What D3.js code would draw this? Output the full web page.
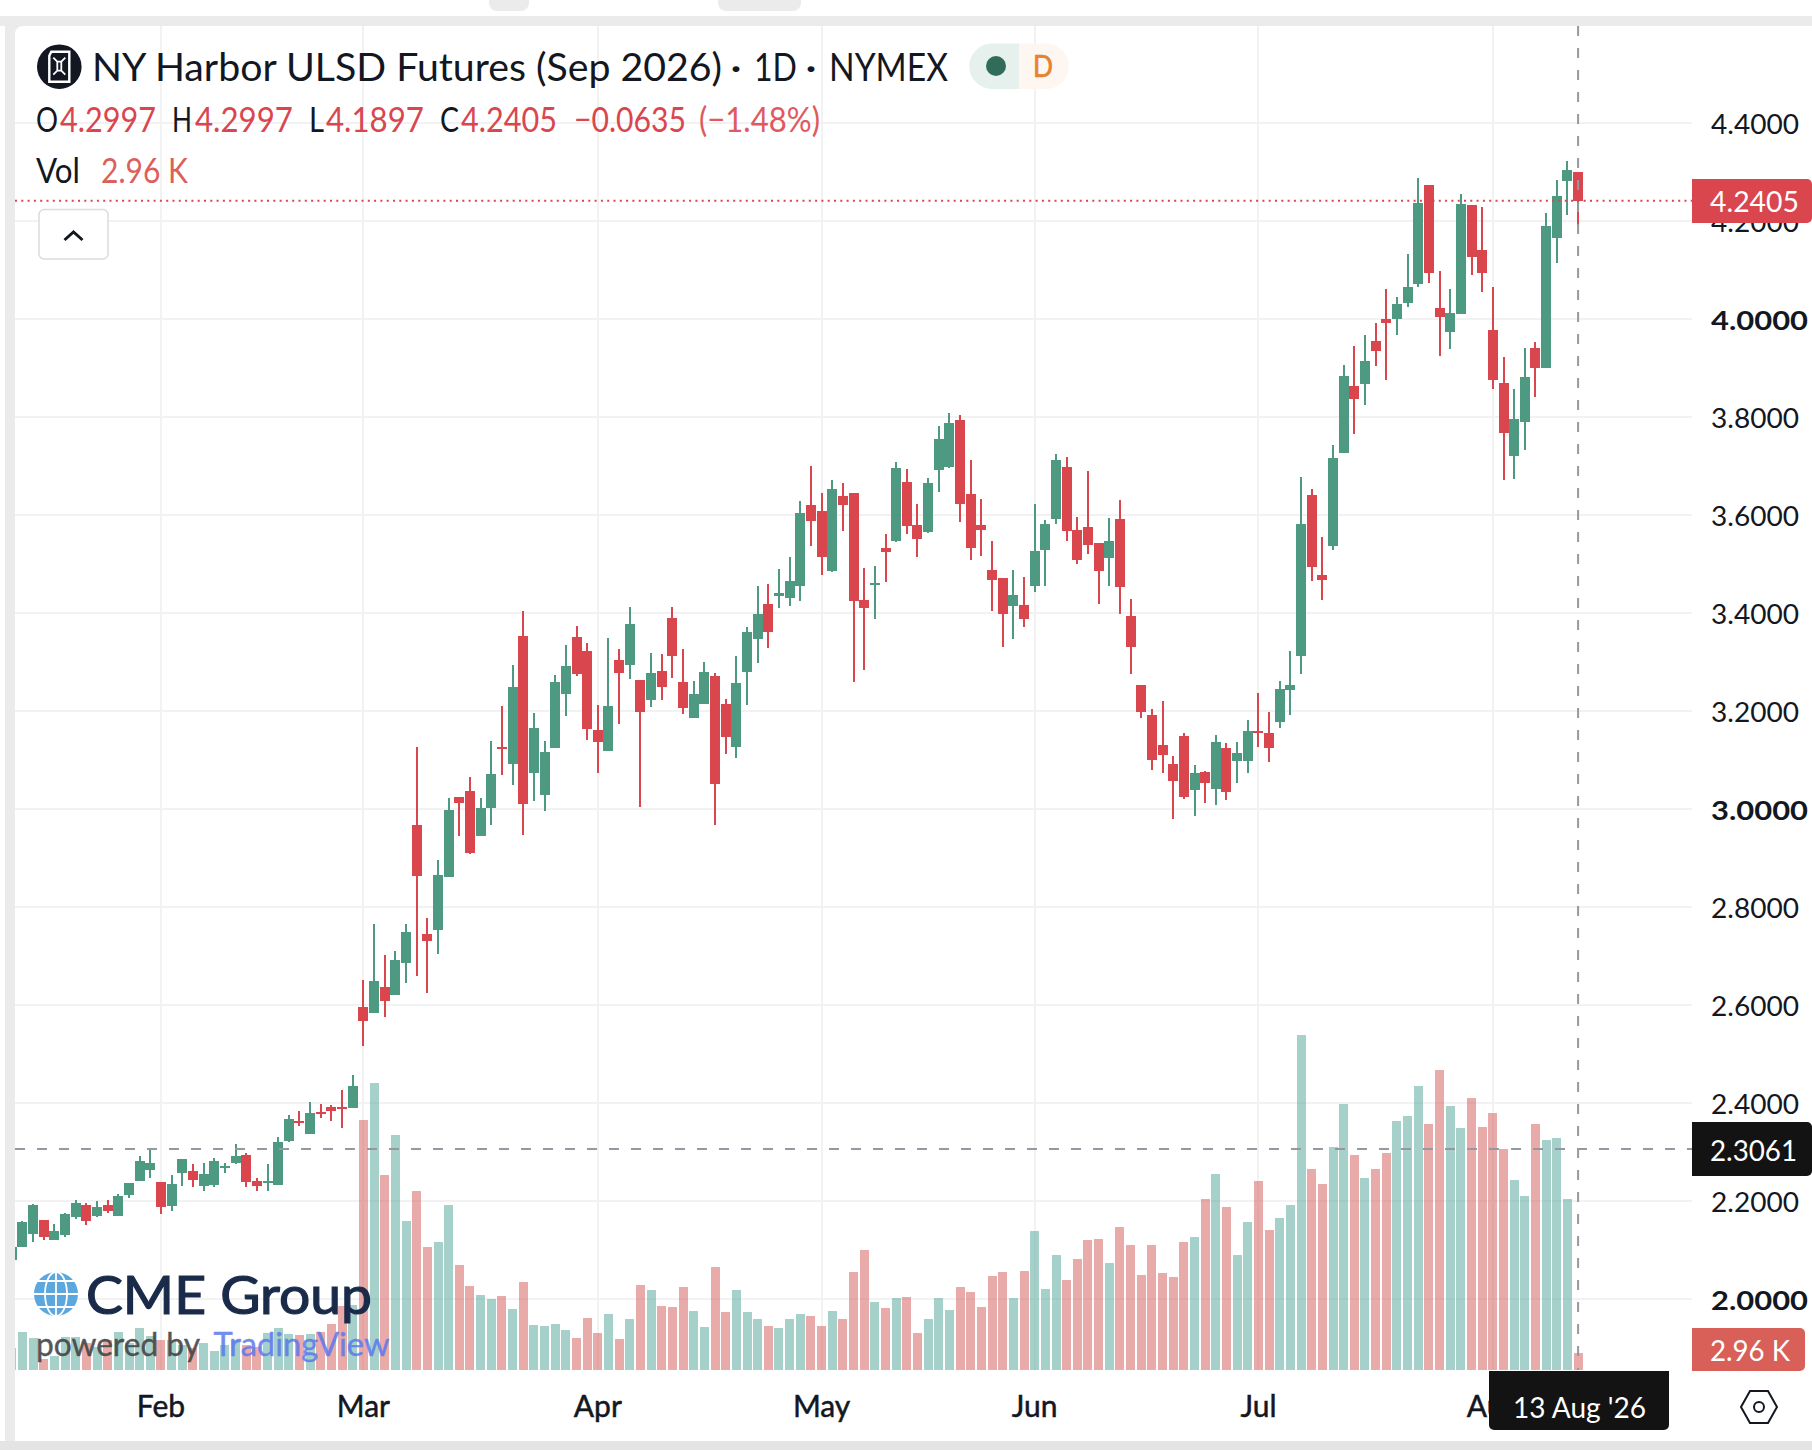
<!DOCTYPE html>
<html><head><meta charset="utf-8">
<script src="https://cdn.jsdelivr.net/npm/d3@7/dist/d3.min.js"></script>
<style>html,body{margin:0;padding:0;background:#fff;overflow:hidden}svg{display:block}text{font-family:Lato,"Noto Sans",sans-serif}</style>
</head><body><svg id="c" width="1812" height="1450"></svg>
<script>
const open=[2.0792,2.1057,2.1322,2.1608,2.12,2.1302,2.1669,2.1914,2.169,2.1914,2.169,2.2118,2.2404,2.2628,2.2383,2.1894,2.2567,2.2608,2.2302,2.2322,2.2669,2.2771,2.2934,2.2404,2.2363,2.2322,2.322,2.3628,2.3362,2.3811,2.3913,2.3913,2.3893,
2.5957,2.5835,2.6365,2.6202,2.6855,2.967,2.7446,2.7528,2.8609,3.0241,3.0364,2.9446,3.0017,3.1261,3.0914,3.3526,3.0731,3.0282,3.1241,3.2342,3.3505,3.322,3.1608,3.118,3.3036,3.2934,3.2628,3.222,3.2812,3.3893,3.2587,3.1853,3.2138,3.271,3.2138,3.1261,3.2791,3.3464,3.4178,3.4342,3.4302,3.4547,
3.6199,3.6077,3.4853,3.6383,3.6444,3.4261,3.4567,3.5322,3.5465,3.6668,3.5791,3.5648,3.6913,3.6974,3.7933,3.6423,3.5791,3.4873,3.471,3.4139,3.4159,3.4547,3.5281,3.5913,3.6974,3.5689,3.575,3.5424,3.5118,3.5913,3.3935,3.2527,3.1915,3.1303,3.0915,3.1487,3.0385,3.0752,3.0405,3.1242,3.0977,3.0977,3.1587,
3.1546,3.177,3.2423,3.3117,3.6405,3.4773,3.5365,3.7262,3.8629,3.8669,3.9547,4.0,4.0,4.0322,4.0709,4.2729,4.022,3.973,4.0097,4.2321,4.1403,3.9771,3.869,3.72,3.7894,3.9404,3.8996,4.1648,4.2811,4.2997];
const close=[2.1057,2.1567,2.1914,2.1261,2.1384,2.173,2.1955,2.1588,2.1873,2.1791,2.2098,2.2363,2.2812,2.2771,2.1873,2.2342,2.2852,2.2424,2.2547,2.2812,2.271,2.2914,2.2383,2.2302,2.2404,2.3199,2.3668,2.3587,2.3791,2.377,2.3832,2.3872,2.4342,
2.5672,2.6488,2.608,2.6916,2.7487,2.863,2.7304,2.865,2.9976,3.0119,2.9099,3.0017,3.071,3.122,3.2485,3.0098,3.1649,3.1159,3.2587,3.2914,3.275,3.1628,3.1363,3.2098,3.2771,3.377,3.1975,3.2771,3.2485,3.3118,3.2057,3.2342,3.2791,3.0506,3.1465,3.2567,3.3607,3.3974,3.3607,3.4403,3.4649,3.6036,
3.5873,3.5138,3.6525,3.6199,3.4241,3.4098,3.4608,3.524,3.6954,3.5771,3.5505,3.6648,3.7545,3.7872,3.6219,3.5322,3.5689,3.4669,3.3975,3.4363,3.3873,3.5261,3.5811,3.7117,3.5669,3.5077,3.5383,3.4853,3.5465,3.4526,3.3302,3.1976,3.0997,3.1099,3.0568,3.0242,3.0732,3.0528,3.1364,3.0344,3.114,3.1589,3.1546,
3.124,3.2443,3.2525,3.5813,3.4936,3.4671,3.716,3.8833,3.8363,3.9139,3.9343,3.9914,4.0301,4.0648,4.2362,4.0934,4.0036,4.0118,4.2341,4.126,4.0934,3.8751,3.767,3.7955,3.8812,3.8996,4.1893,4.2505,4.3035,4.2405];
const high=[2.1057,2.1588,2.1934,2.1608,2.1526,2.1744,2.2016,2.1955,2.1996,2.2016,2.2138,2.2363,2.2914,2.3036,2.2383,2.2526,2.2852,2.275,2.2771,2.2873,2.2771,2.3158,2.2975,2.2465,2.275,2.3301,2.375,2.3832,2.4015,2.3974,2.3954,2.426,2.4566,
2.6508,2.765,2.7008,2.71,2.765,3.1261,2.7773,2.8956,3.0221,3.0241,3.0649,3.0221,3.1384,3.2098,3.2934,3.4036,3.1955,3.1384,3.273,3.3342,3.373,3.3383,3.2118,3.3485,3.326,3.4117,3.2628,3.3179,3.3158,3.4117,3.326,3.2608,3.2995,3.2771,3.224,3.3118,3.3709,3.4546,3.4586,3.4892,3.5138,3.6281,
3.7,3.6444,3.6709,3.6648,3.6444,3.4914,3.4955,3.5607,3.7076,3.6933,3.6219,3.675,3.7811,3.8076,3.8035,3.7117,3.6321,3.5465,3.471,3.4873,3.473,3.6219,3.5893,3.7239,3.7178,3.5954,3.6893,3.5424,3.5934,3.6301,3.4281,3.2527,3.2037,3.2201,3.1079,3.1548,3.0895,3.0772,3.1507,3.1344,3.1364,3.1813,3.2362,
3.1974,3.2607,3.3219,3.6765,3.6527,3.5548,3.7425,3.9057,3.9445,3.9669,3.9914,4.0607,4.0444,4.1321,4.2872,4.2729,4.0975,4.0607,4.2545,4.2321,4.228,4.0648,3.922,3.8567,3.9404,3.9526,4.2158,4.2831,4.3219,4.2997];
const low=[2.0792,2.1057,2.1159,2.12,2.12,2.1261,2.1628,2.1506,2.1669,2.1751,2.169,2.2057,2.2404,2.2465,2.173,2.1792,2.2302,2.2281,2.22,2.2281,2.2567,2.275,2.2281,2.22,2.22,2.2322,2.3199,2.3526,2.3362,2.3689,2.3628,2.3485,2.3893,
2.5162,2.5835,2.5753,2.6202,2.6447,2.659,2.6243,2.7038,2.8609,2.9446,2.9078,2.9446,2.967,3.069,3.0486,2.9466,3.016,2.9956,3.1241,3.1894,3.271,3.1404,3.0731,3.118,3.173,3.2648,3.0037,3.2077,3.222,3.2669,3.1934,3.1853,3.2138,2.967,3.1118,3.1037,3.2118,3.2975,3.3281,3.4097,3.4139,3.4241,
3.5363,3.4771,3.4832,3.5669,3.2588,3.2833,3.3873,3.4628,3.5444,3.5607,3.5138,3.5628,3.6464,3.6954,3.5852,3.5077,3.5159,3.4037,3.3302,3.3465,3.371,3.4424,3.4547,3.5811,3.5465,3.4995,3.5199,3.4179,3.4547,3.3975,3.2751,3.1854,3.0793,3.0732,2.9793,3.0201,2.9855,3.012,3.0079,3.0181,3.0528,3.0732,3.126,
3.0954,3.1648,3.1913,3.2749,3.4651,3.4263,3.5283,3.7262,3.7649,3.8241,3.9037,3.8751,3.9669,4.024,4.0648,4.073,3.9241,3.9383,4.0097,4.0893,4.0546,3.8567,3.6711,3.6731,3.7323,3.8404,3.8996,4.1138,4.2117,4.1897];
const volumeK=[3.83,6.6,5.57,1.9,2.44,5.74,5.74,4.64,4.06,5.22,6.61,4.64,7.31,5.92,5.22,5.22,4.35,3.77,4.7,3.31,4.35,5.22,4.35,4.06,6.38,7.31,6.27,6.09,6.27,6.67,8.0,11.14,11.31,
43.5,49.9,33.9,40.9,25.9,31.1,21.4,22.3,28.7,18.3,14.6,13.05,12.35,12.9,10.6,15.3,7.83,7.66,8.0,6.96,5.57,9.05,6.44,9.74,5.39,8.87,14.8,13.9,11.14,10.96,14.44,10.27,7.48,17.92,10.09,13.92,10.09,8.87,7.66,7.31,8.87,9.74,
9.4,7.66,10.27,8.87,17.05,20.88,11.83,10.79,12.53,12.7,6.44,8.87,12.53,10.44,14.44,13.57,10.96,16.36,17.05,12.53,17.23,24.19,14.09,20.01,15.66,19.31,22.62,22.79,18.62,24.88,21.75,16.53,21.75,16.88,16.18,22.27,23.14,29.75,34.1,28.36,20.01,25.75,32.89,
24.36,26.45,28.71,58.29,34.97,32.36,38.8,46.28,37.41,33.41,34.97,37.76,43.33,44.2,49.42,42.8,52.2,45.94,42.11,47.33,42.28,44.72,38.45,33.06,30.28,42.8,40.02,40.37,29.75,2.96];
const monthLabels=["Feb","Mar","Apr","May","Jun","Jul","Aug"];
const monthIndex=[14,33,55,76,96,117,139];
const priceTicks=[4.4,4.2,4.0,3.8,3.6,3.4,3.2,3.0,2.8,2.6,2.4,2.2,2.0];
const titleParts=["NY Harbor ULSD Futures (Sep 2026)","·","1D","·","NYMEX"];
const GREEN="#4d9982",RED="#d9464e",INK="#131722";
const svg=d3.select("#c");
const L=15,R=1692,T=26,B=1370;
const x=d3.scaleLinear().domain([0,147]).range([11.8,1578.1]);
const y=d3.scaleLinear().domain([2,4.4]).range([1298.7,122.7]);
const yV=d3.scaleLinear().domain([0,60]).range([B,B-344.6]);
const fmt=d3.format(".4f");
// page chrome
svg.append("rect").attr("width",1812).attr("height",1450).attr("fill","#fff");
svg.append("rect").attr("x",5).attr("y",16).attr("width",1807).attr("height",1434).attr("fill","#ebebeb");
svg.append("rect").attr("x",0).attr("y",16).attr("width",1812).attr("height",10).attr("fill","#ebebeb");
[[489,40],[718,83]].forEach(d=>svg.append("path").attr("fill","#ebebeb").attr("d",`M${d[0]} 0h${d[1]}v3a8 8 0 0 1 -8 8h-${d[1]-16}a8 8 0 0 1 -8 -8z`));
svg.append("path").attr("fill","#fff").attr("d",`M${L+8} ${T}H1812V1441H${L}V${T+8}a8 8 0 0 1 8 -8z`);
svg.append("rect").attr("x",0).attr("y",1441).attr("width",1812).attr("height",9).attr("fill","#e4e4e4");
svg.append("clipPath").attr("id","pane").append("rect").attr("x",L).attr("y",T).attr("width",R-L).attr("height",B-T);
// grid
const grid=svg.append("g").attr("stroke","#f2f2f3").attr("stroke-width",2).attr("shape-rendering","crispEdges");
grid.selectAll(".h").data(priceTicks).join("line").attr("x1",L).attr("x2",R).attr("y1",d=>Math.round(y(d))).attr("y2",d=>Math.round(y(d)));
grid.selectAll(".v").data(monthIndex).join("line").attr("x1",d=>Math.round(x(d))).attr("x2",d=>Math.round(x(d))).attr("y1",T).attr("y2",B);
const pane=svg.append("g").attr("clip-path","url(#pane)");
const idx=d3.range(open.length);
// volume
pane.append("g").attr("shape-rendering","crispEdges").selectAll("rect").data(idx).join("rect")
 .attr("x",i=>Math.round(x(i)-4.5)).attr("width",9)
 .attr("y",i=>yV(volumeK[i])).attr("height",i=>B-yV(volumeK[i]))
 .attr("fill",i=>close[i]<open[i]?"rgba(210,88,84,.5)":"rgba(78,163,152,.5)");
// candles
const cg=pane.append("g").attr("shape-rendering","crispEdges");
cg.selectAll("rect.w").data(idx).join("rect").attr("class","w")
 .attr("x",i=>Math.round(x(i))-1).attr("width",2)
 .attr("y",i=>y(high[i])).attr("height",i=>y(low[i])-y(high[i]))
 .attr("fill",i=>close[i]<open[i]?RED:GREEN);
cg.selectAll("rect.b").data(idx).join("rect").attr("class","b")
 .attr("x",i=>Math.round(x(i))-5).attr("width",10)
 .attr("y",i=>y(Math.max(open[i],close[i]))).attr("height",i=>Math.max(2,Math.abs(y(open[i])-y(close[i]))))
 .attr("fill",i=>close[i]<open[i]?RED:GREEN);
// text helper: fixed span widths match the reference type
function t(s,xp,yp,size,fill,w,opt={}){
 const e=svg.append("text").attr("x",xp).attr("y",yp).attr("font-size",size).attr("fill",fill).text(s);
 if(w){e.attr("textLength",w).attr("lengthAdjust","spacingAndGlyphs");}
 if(opt.weight)e.attr("font-weight",opt.weight);
 if(opt.anchor)e.attr("text-anchor",opt.anchor);
 if(opt.op)e.attr("opacity",opt.op);
 if(opt.sw)e.attr("stroke",fill).attr("stroke-width",opt.sw);
 return e;
}
// watermark
const globe=svg.append("g").attr("transform","translate(56,1294)");
globe.append("circle").attr("r",22).attr("fill","#5ca8de");
globe.append("g").attr("fill","none").attr("stroke","#fff").attr("stroke-width",1.8).call(g=>{
 g.append("ellipse").attr("rx",11).attr("ry",22);
 g.append("line").attr("x1",0).attr("x2",0).attr("y1",-22).attr("y2",22);
 [-13,0,13].forEach(v=>g.append("line").attr("x1",-22).attr("x2",22).attr("y1",v).attr("y2",v));
});
t("CME Group",86,1314,53,"#1a2b4a",286,{sw:1.2});
t("powered by",36,1356,32,"#444",164,{op:.9,sw:.4});
t("TradingView",213.5,1356,32,"#5b78ee",176,{op:.85,sw:.4});
// price labels
priceTicks.forEach(v=>{
 const bold=Math.abs(v-Math.round(v))<1e-9;
 t(fmt(v),1711,y(v)+11,27,INK,bold?97:88,{weight:bold?700:400});
});
// time labels
monthLabels.forEach((m,i)=>t(m,x(monthIndex[i]),1417,30,INK,null,{anchor:"middle",sw:.5}));
// last price line
const lastY=y(close[147]);
svg.append("line").attr("x1",L).attr("x2",R).attr("y1",lastY).attr("y2",lastY).attr("stroke",RED).attr("stroke-width",2).attr("stroke-dasharray","2 4.3");
// crosshair
const crossPrice=2.3061;
svg.append("line").attr("x1",L).attr("x2",R).attr("y1",y(crossPrice)+.3).attr("y2",y(crossPrice)+.3).attr("stroke","#9598a1").attr("stroke-width",2).attr("stroke-dasharray","10 12");
svg.append("line").attr("x1",x(147)).attr("x2",x(147)).attr("y1",T).attr("y2",B).attr("stroke","#9598a1").attr("stroke-width",2).attr("stroke-dasharray","10 12");
// tags
const rightTag=(y0,h,w,fill)=>svg.append("path").attr("fill",fill).attr("d",`M${R} ${y0}H${R+w-5}a5 5 0 0 1 5 5V${y0+h-5}a5 5 0 0 1 -5 5H${R}z`);
rightTag(179,44,120,RED);
t(fmt(close[147]),1710,lastY+11.5,28,"#fff",89);
rightTag(1122,54,120,"#131313");
t(fmt(crossPrice),1710,y(crossPrice)+12,28,"#fff",87);
rightTag(1328,43,113,"#d95f59");
t("2.96 K",1710,1361,28,"#fff",80);
svg.append("path").attr("fill","#131313").attr("d","M1489 1371H1669V1425a5 5 0 0 1 -5 5H1494a5 5 0 0 1 -5 -5z");
t("13 Aug '26",1513,1418,28,"#fff",133);
// settings hexagon
const hex=d3.path();[[-18,0],[-9,-16],[9,-16],[18,0],[9,16],[-9,16]].forEach((p,i)=>i?hex.lineTo(1759+p[0],1407+p[1]):hex.moveTo(1759+p[0],1407+p[1]));hex.closePath();
svg.append("path").attr("d",hex.toString()).attr("fill","none").attr("stroke",INK).attr("stroke-width",2);
svg.append("circle").attr("cx",1759).attr("cy",1407).attr("r",5).attr("fill","none").attr("stroke",INK).attr("stroke-width",2);
// legend header
svg.append("circle").attr("cx",59.3).attr("cy",66.7).attr("r",22.3).attr("fill","#131722");
const ic=svg.append("g").attr("transform","translate(59.3,66.7)").attr("fill","none").attr("stroke","#fff").attr("stroke-width",2.4);
ic.append("path").attr("d","M-8 -15H10V15H-10V-11Z");
ic.append("path").attr("d","M-6 -9L-2 -5H2L6 -9M-6 8L-2 4H2L6 8M-2 -5V4M2 -5V4").attr("stroke-width",1.8);
const titleX=[[92,630],[730,12],[754,43],[805,12],[829,119]];
titleParts.forEach((s,i)=>t(s,titleX[i][0],81,39,INK,titleX[i][1]));
svg.append("path").attr("fill","#e5f0ec").attr("fill-opacity",.95).attr("d","M1019 43.5H992a22.7 22.7 0 0 0 0 45.5H1019z");
svg.append("path").attr("fill","#fdf6f0").attr("fill-opacity",.95).attr("d","M1019 43.5H1046a22.7 22.7 0 0 1 0 45.5H1019z");
svg.append("circle").attr("cx",996).attr("cy",66).attr("r",10).attr("fill","#336b5a");
t("D",1033,76.5,30,"#e5832e",20,{sw:.7});
const hdr=[["O",36,22,INK],["4.2997",60,96,RED],["H",172,20,INK],["4.2997",195,98,RED],["L",309,15,INK],["4.1897",326,98,RED],["C",440,19,INK],["4.2405",461,96,RED],["−0.0635",574,112,RED],["(−1.48%)",699,121,"#de5a5e"]];
hdr.forEach(d=>t(d[0],d[1],131.5,34,d[3],d[2]));
t("Vol",36,183,34,INK,44);
t("2.96 K",101,183,34,"#dc5f5b",87);
svg.append("rect").attr("x",39).attr("y",209.5).attr("width",69).attr("height",49.5).attr("rx",5).attr("fill","#fff").attr("stroke","#dcdcdc").attr("stroke-width",1.5);
svg.append("path").attr("d","M64.5 240L73.5 232L82.5 240").attr("fill","none").attr("stroke",INK).attr("stroke-width",3);
</script></body></html>
